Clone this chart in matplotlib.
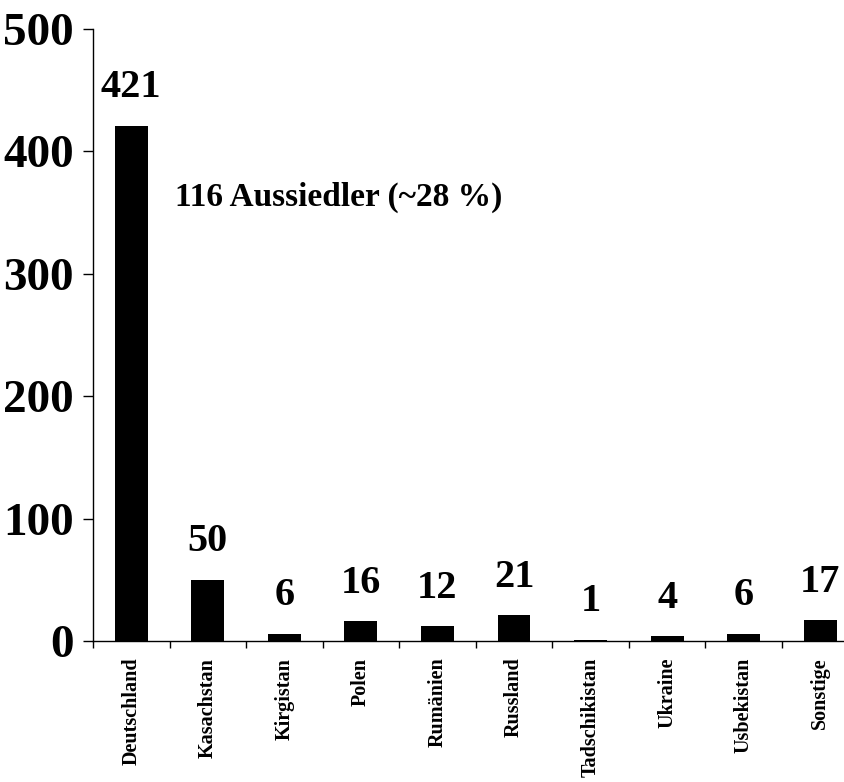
import matplotlib.pyplot as plt
import numpy as np

# Herkunftsländer und Anzahl Personen
countries = ["Deutschland", "Kasachstan", "Kirgistan", "Polen", "Rumänien",
             "Russland", "Tadschikistan", "Ukraine", "Usbekistan", "Sonstige"]
counts = [421, 50, 6, 16, 12, 21, 1, 4, 6, 17]
y_ticks = [0, 100, 200, 300, 400, 500]
note = "116 Aussiedler (~28 %)"

plt.rcParams["font.family"] = ["Liberation Serif", "DejaVu Serif"]
plt.rcParams["font.weight"] = "bold"

fig = plt.figure(figsize=(8.45, 7.82), dpi=100)
ax = fig.add_axes([0.110, 0.1803, 0.906, 0.7826])

x = np.arange(len(countries))
bars = ax.bar(x, counts, width=0.43, color="black")

for xi, v in zip(x, counts):
    ax.annotate(str(v), (xi, v), xytext=(0, 14), textcoords="offset points",
                ha="center", va="bottom", fontsize=29, fontweight="bold")

ax.text(0.57, 356, note, fontsize=24, fontweight="bold", va="baseline", ha="left")

ax.set_xlim(-0.5, len(countries) - 0.5)
ax.set_ylim(0, 500)

# Striche zwischen den Kategorien, Beschriftung in der Mitte
ax.set_xticks(np.arange(len(countries) + 1) - 0.5)
ax.set_xticklabels([])
ax.set_xticks(x, minor=True)
ax.set_xticklabels(countries, minor=True, rotation=90, fontsize=14.5,
                   fontweight="bold", va="top", ha="center")
ax.tick_params(axis="x", which="major", direction="out", length=5, width=1)
ax.tick_params(axis="x", which="minor", length=0, pad=12)

ax.set_yticks(y_ticks)
ax.set_yticklabels([str(t) for t in y_ticks], fontsize=34, fontweight="bold")
ax.tick_params(axis="y", direction="out", length=7, width=1, pad=7)

for side in ("top", "right"):
    ax.spines[side].set_visible(False)
for side in ("left", "bottom"):
    ax.spines[side].set_linewidth(1)

fig.savefig("out.png", dpi=100)
